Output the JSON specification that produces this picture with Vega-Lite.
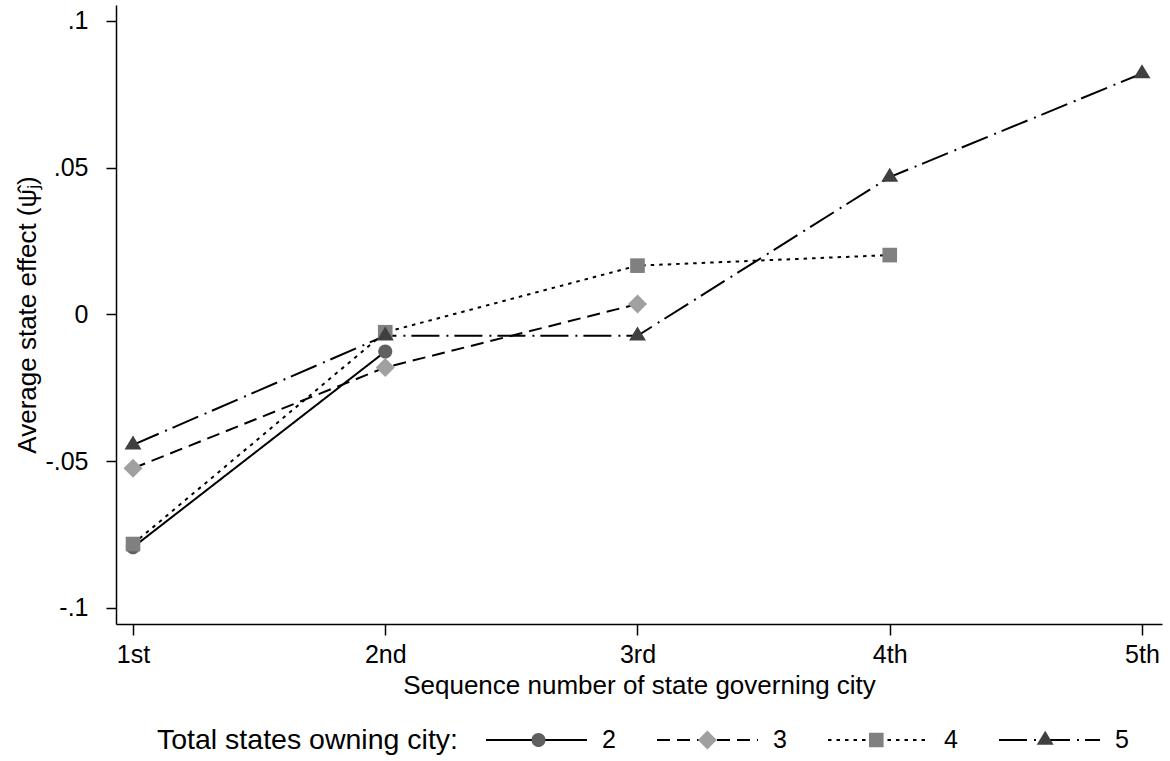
{
  "$schema": "https://vega.github.io/schema/vega-lite/v6.json",
  "width": 1046,
  "height": 619,
  "autosize": {"type": "none"},
  "padding": {"left": 116, "top": 5, "right": 8, "bottom": 137},
  "background": "white",
  "config": {
    "font": "Liberation Sans",
    "view": {"stroke": null},
    "axis": {
      "grid": false,
      "domainColor": "black",
      "domainWidth": 1.5,
      "tickColor": "black",
      "tickWidth": 1.5,
      "tickSize": 10,
      "labelFont": "Liberation Sans",
      "labelFontSize": 25,
      "labelColor": "black",
      "titleFont": "Liberation Sans",
      "titleFontSize": 26,
      "titleFontWeight": "normal",
      "titleColor": "black"
    }
  },
  "data": {
    "values": [
      {"seq": 1, "effect": -0.0794, "states": 2},
      {"seq": 2, "effect": -0.0127, "states": 2},
      {"seq": 1, "effect": -0.0525, "states": 3},
      {"seq": 2, "effect": -0.0181, "states": 3},
      {"seq": 3, "effect": 0.0035, "states": 3},
      {"seq": 1, "effect": -0.0783, "states": 4},
      {"seq": 2, "effect": -0.0061, "states": 4},
      {"seq": 3, "effect": 0.0166, "states": 4},
      {"seq": 4, "effect": 0.0202, "states": 4},
      {"seq": 1, "effect": -0.0445, "states": 5},
      {"seq": 2, "effect": -0.0073, "states": 5},
      {"seq": 3, "effect": -0.0073, "states": 5},
      {"seq": 4, "effect": 0.0468, "states": 5},
      {"seq": 5, "effect": 0.0821, "states": 5}
    ]
  },
  "encoding": {
    "x": {
      "field": "seq",
      "type": "quantitative",
      "scale": {"domain": [0.9326, 5.0793], "nice": false, "zero": false},
      "axis": {
        "values": [1, 2, 3, 4, 5],
        "labelExpr": "datum.value == 1 ? '1st' : datum.value == 2 ? '2nd' : datum.value == 3 ? '3rd' : datum.value + 'th'",
        "title": "Sequence number of state governing city",
        "labelPadding": 7,
        "titlePadding": 5,
        "tickSize": 11
      }
    },
    "y": {
      "field": "effect",
      "type": "quantitative",
      "scale": {"domain": [-0.10556, 0.10545], "nice": false, "zero": false},
      "axis": {
        "values": [-0.1, -0.05, 0, 0.05, 0.1],
        "labelExpr": "(datum.value < 0 ? '-' : '') + replace(format(abs(datum.value), '.2~f'), '0.', '.')",
        "title": "Average state effect (ψ̂ⱼ)",
        "labelPadding": 18,
        "titlePadding": 4
      }
    }
  },
  "layer": [
    {
      "mark": {"type": "line", "color": "black", "strokeWidth": 2},
      "encoding": {
        "strokeDash": {
          "field": "states",
          "type": "nominal",
          "scale": {"domain": [2, 3, 4, 5], "range": [[1, 0], [13, 7], [3.5, 5], [28, 7, 2, 6]]},
          "legend": {
            "title": "Total states owning city:",
            "orient": "none",
            "direction": "horizontal",
            "legendX": 41,
            "legendY": 720,
            "padding": 0,
            "clipHeight": 30,
            "titleOrient": "left",
            "titleAnchor": "middle",
            "titleBaseline": "middle",
            "titlePadding": 27,
            "titleLimit": 600,
            "titleFont": "Liberation Sans",
            "titleFontSize": 28.5,
            "titleFontWeight": "normal",
            "titleColor": "black",
            "labelFont": "Liberation Sans",
            "labelFontSize": 25,
            "labelColor": "black",
            "labelOffset": 14,
            "columnPadding": 40,
            "symbolType": "stroke",
            "symbolSize": 10201,
            "symbolStrokeColor": "black",
            "symbolStrokeWidth": 2
          }
        }
      }
    },
    {
      "mark": {"type": "point", "filled": true, "size": 10201, "strokeWidth": 0, "opacity": 1},
      "encoding": {
        "shape": {
          "field": "states",
          "type": "nominal",
          "scale": {
            "range": [
              "M0.139,0A0.139,0.139,0,1,1,-0.139,0A0.139,0.139,0,1,1,0.139,0Z",
              "M0,-0.188L0.188,0L0,0.188L-0.188,0Z",
              "M-0.145,-0.145L0.145,-0.145L0.145,0.145L-0.145,0.145Z",
              "M0,-0.185L0.168,0.093L-0.168,0.093Z"
            ]
          },
          "legend": {
            "title": null,
            "orient": "none",
            "direction": "horizontal",
            "legendX": 372,
            "legendY": 720,
            "padding": 0,
            "clipHeight": 30,
            "labelExpr": "''",
            "labelFont": "Liberation Sans",
            "labelFontSize": 25,
            "labelOffset": 17,
            "columnPadding": 50.9,
            "symbolSize": 10201,
            "symbolStrokeWidth": 0,
            "symbolOpacity": 1
          }
        },
        "fill": {
          "field": "states",
          "type": "nominal",
          "scale": {"range": ["#606060", "#a0a0a0", "#808080", "#404040"]},
          "legend": {
            "title": null,
            "orient": "none",
            "direction": "horizontal",
            "legendX": 372,
            "legendY": 720,
            "padding": 0,
            "clipHeight": 30,
            "labelExpr": "''",
            "labelFont": "Liberation Sans",
            "labelFontSize": 25,
            "labelOffset": 17,
            "columnPadding": 50.9,
            "symbolSize": 10201,
            "symbolStrokeWidth": 0,
            "symbolOpacity": 1
          }
        }
      }
    }
  ]
}
